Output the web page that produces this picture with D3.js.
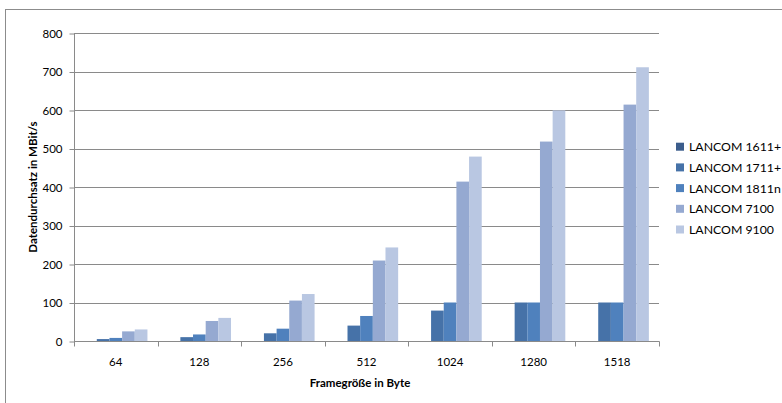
<!DOCTYPE html>
<html>
<head>
<meta charset="utf-8">
<script src="https://cdn.jsdelivr.net/npm/d3@7"></script>
<style>
  html, body { margin: 0; padding: 0; background: #fff; }
  svg { display: block; font-family: Lato, "Liberation Sans", sans-serif; }
</style>
</head>
<body>
<svg id="chart" width="782" height="403"></svg>
<script>
// Frame sizes (bytes) on the x axis
const categories = ["64", "128", "256", "512", "1024", "1280", "1518"];
// Router models in legend order
const seriesNames = ["LANCOM 1611+", "LANCOM 1711+", "LANCOM 1811n", "LANCOM 7100", "LANCOM 9100"];
// Throughput in MBit/s per model, one entry per frame size
const lancom1611 = [0, 0, 0, 0, 0, 0, 0];
const lancom1711 = [5, 10, 20, 40, 79, 100, 100];
const lancom1811 = [8, 17, 32, 65, 100, 100, 100];
const lancom7100 = [25, 52, 105, 209, 414, 518, 614];
const lancom9100 = [30, 60, 122, 243, 479, 599, 711];
const seriesValues = [lancom1611, lancom1711, lancom1811, lancom7100, lancom9100];
const seriesColors = ["#3c5d8c", "#4672a8", "#4f81bd", "#95a9d1", "#b9c7e2"];
const yTicks = [0, 100, 200, 300, 400, 500, 600, 700, 800];

const svg = d3.select("#chart");
const plot = { left: 74, right: 659, top: 33, bottom: 341 };

// outer chart frame
svg.append("rect")
  .attr("x", 5.5).attr("y", 9.5)
  .attr("width", 790).attr("height", 410)
  .attr("fill", "none").attr("stroke", "#8c8c8c");

const x = d3.scaleBand().domain(categories).range([plot.left, plot.right]).padding(0);
const xs = d3.scaleBand().domain(seriesNames).range([0, x.bandwidth()])
  .paddingInner(0).paddingOuter(0.8);
const y = d3.scaleLinear().domain([0, 800]).range([plot.bottom, plot.top]);

// horizontal gridlines
svg.append("g").selectAll("line").data(yTicks.filter(d => d > 0)).join("line")
  .attr("x1", plot.left).attr("x2", plot.right)
  .attr("y1", d => Math.round(y(d)) + 0.5).attr("y2", d => Math.round(y(d)) + 0.5)
  .attr("stroke", "#8a8a8a").attr("stroke-width", 1);

// bars
const rows = [];
seriesNames.forEach((s, si) => {
  categories.forEach((c, ci) => rows.push({ s, si, c, v: seriesValues[si][ci] }));
});
svg.append("g").selectAll("rect").data(rows.filter(d => d.v > 0)).join("rect")
  .attr("x", d => x(d.c) + xs(d.s))
  .attr("width", xs.bandwidth())
  .attr("y", d => y(d.v))
  .attr("height", d => y(0) - y(d.v))
  .attr("fill", d => seriesColors[d.si]);

// y axis
const yAxis = svg.append("g")
  .attr("transform", `translate(${plot.left + 0.5},0.5)`)
  .call(d3.axisLeft(y).tickValues(yTicks).tickSize(5).tickPadding(7));
yAxis.select(".domain").attr("stroke", "#8a8a8a").attr("d", `M0,${y(800)}V${y(0)}`);
yAxis.selectAll(".tick line").attr("stroke", "#8a8a8a");
yAxis.selectAll(".tick text").attr("font-size", 11.5).attr("fill", "#000")
  .attr("font-family", "Lato, 'Liberation Sans', sans-serif");

// x axis with ticks on category boundaries
const xAxis = svg.append("g").attr("transform", `translate(0,${Math.round(plot.bottom) + 0.5})`);
xAxis.append("line").attr("x1", plot.left).attr("x2", plot.right + 0.5)
  .attr("stroke", "#8a8a8a");
const bounds = categories.map(c => x(c)).concat([plot.right]);
xAxis.selectAll("line.tk").data(bounds).join("line").attr("class", "tk")
  .attr("x1", d => Math.round(d) + 0.5).attr("x2", d => Math.round(d) + 0.5)
  .attr("y1", 0).attr("y2", 5).attr("stroke", "#8a8a8a");
xAxis.selectAll("text").data(categories).join("text")
  .attr("x", d => x(d) + x.bandwidth() / 2).attr("y", 24)
  .attr("text-anchor", "middle").attr("font-size", 11.5).attr("fill", "#000")
  .text(d => d);

// axis titles
svg.append("text").attr("x", 360).attr("y", 387).attr("text-anchor", "middle")
  .attr("font-size", 11.5).attr("font-weight", "bold").text("Framegröße in Byte");
svg.append("text").attr("transform", `translate(37,${(plot.top + plot.bottom) / 2}) rotate(-90)`)
  .attr("text-anchor", "middle").attr("font-size", 11.5).attr("font-weight", "bold")
  .text("Datendurchsatz in MBit/s");

// legend
const legend = svg.append("g").selectAll("g").data(seriesNames).join("g")
  .attr("transform", (d, i) => `translate(676,${146.7 + i * 20.7})`);
legend.append("rect").attr("x", 0).attr("y", -4).attr("width", 8).attr("height", 8)
  .attr("fill", (d, i) => seriesColors[i]);
legend.append("text").attr("x", 13).attr("y", 4.5).attr("font-size", 12.3).attr("fill", "#000")
  .text(d => d);
</script>
</body>
</html>
